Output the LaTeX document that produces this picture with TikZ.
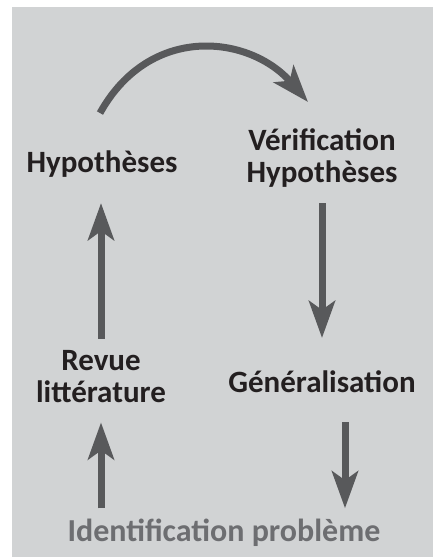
\documentclass[tikz,border=0pt]{standalone}
\usepackage{fontspec}
\setmainfont{Carlito}
\usetikzlibrary{arrows.meta}
\definecolor{bggray}{HTML}{D1D3D4}
\definecolor{arrowgray}{HTML}{58595B}
\definecolor{textdark}{HTML}{231F20}
\definecolor{textlight}{HTML}{6D6E71}
\tikzset{
    flow/.style={arrowgray, line width=7pt, -{Stealth[length=37pt, width=26pt, inset=9pt]}},
    stage/.style={textdark, inner sep=0pt, anchor=base, align=center,
        font=\bfseries\fontsize{31}{32}\selectfont},
}

\begin{document}
\begin{tikzpicture}[x=1pt, y=1pt]

    % background
    \fill[white] (0,0) rectangle (433,557);
    \fill[bggray] (12,0) rectangle (433,550);

    % stages (base = last line)
    \node[stage] (hyp) at (102,384) {Hypothèses};
    \node[stage] (verif) at (322,374) {Vérification\\Hypothèses};
    \node[stage] (revue) at (101,154) {Revue\\littérature};
    \node[stage] (gen) at (322,164) {Généralisation};
    \node[stage, textlight, font=\bfseries\fontsize{32}{32}\selectfont] (ident) at (224,15) {Identification problème};

    % connectors
    \draw[flow] (hyp.north) ++(-2,38) .. controls +(50,90) and +(-58,67) .. (308,455);
    \draw[flow, shorten <=12pt, shorten >=25pt] (revue.north) -- (revue.north |- hyp.south);
    \draw[flow, shorten <=15pt, shorten >=33pt] (verif.south) -- (verif.south |- gen.north);
    \draw[flow, shorten <=11pt, shorten >=19pt] (ident.north -| revue.south) -- (revue.south);
    \draw[flow, shorten <=29pt, shorten >=11pt] ([xshift=23pt]gen.south) -- ([xshift=23pt]gen.south |- ident.north);

\end{tikzpicture}
\end{document}
